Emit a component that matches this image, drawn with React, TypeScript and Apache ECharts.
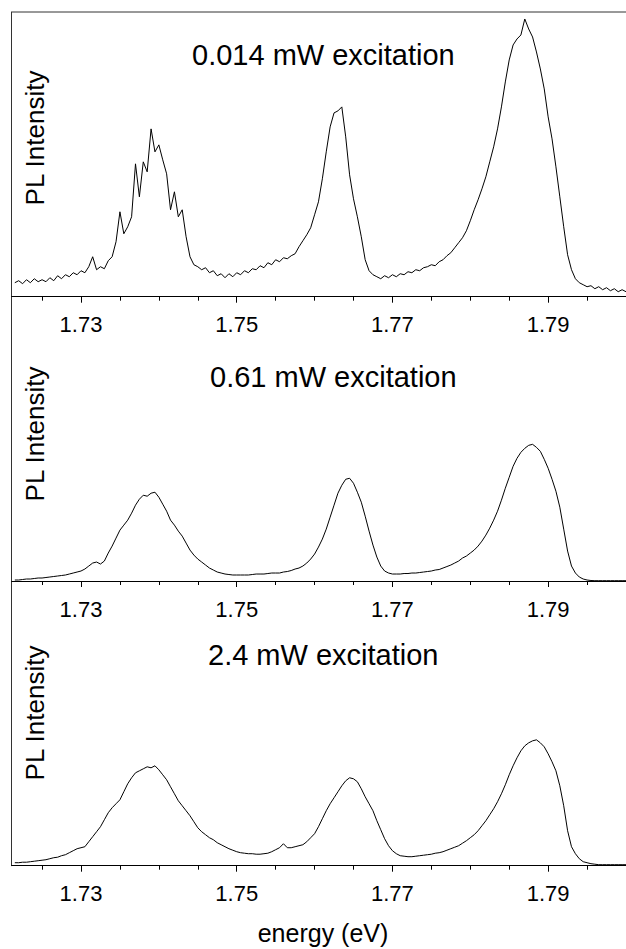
import React, { useEffect, useRef } from "react";
import * as echarts from "echarts";

// Photon energy (eV), shared sampling grid of all three spectra
const energy = [
  1.7215, 1.722, 1.7225, 1.723, 1.7235, 1.724, 1.7245, 1.725, 1.7255, 1.726,
  1.7265, 1.727, 1.7275, 1.728, 1.7285, 1.729, 1.7295, 1.73, 1.7305, 1.731,
  1.7315, 1.732, 1.7325, 1.733, 1.7335, 1.734, 1.7345, 1.735, 1.7355, 1.736,
  1.7365, 1.737, 1.7375, 1.738, 1.7385, 1.739, 1.7395, 1.74, 1.7405, 1.741,
  1.7415, 1.742, 1.7425, 1.743, 1.7435, 1.744, 1.7445, 1.745, 1.7455, 1.746,
  1.7465, 1.747, 1.7475, 1.748, 1.7485, 1.749, 1.7495, 1.75, 1.7505, 1.751,
  1.7515, 1.752, 1.7525, 1.753, 1.7535, 1.754, 1.7545, 1.755, 1.7555, 1.756,
  1.7565, 1.757, 1.7575, 1.758, 1.7585, 1.759, 1.7595, 1.76, 1.7605, 1.761,
  1.7615, 1.762, 1.7625, 1.763, 1.7635, 1.764, 1.7645, 1.765, 1.7655, 1.766,
  1.7665, 1.767, 1.7675, 1.768, 1.7685, 1.769, 1.7695, 1.77, 1.7705, 1.771,
  1.7715, 1.772, 1.7725, 1.773, 1.7735, 1.774, 1.7745, 1.775, 1.7755, 1.776,
  1.7765, 1.777, 1.7775, 1.778, 1.7785, 1.779, 1.7795, 1.78, 1.7805, 1.781,
  1.7815, 1.782, 1.7825, 1.783, 1.7835, 1.784, 1.7845, 1.785, 1.7855, 1.786,
  1.7865, 1.787, 1.7875, 1.788, 1.7885, 1.789, 1.7895, 1.79, 1.7905, 1.791,
  1.7915, 1.792, 1.7925, 1.793, 1.7935, 1.794, 1.7945, 1.795, 1.7955, 1.796,
  1.7965, 1.797, 1.7975, 1.798, 1.7985, 1.799, 1.7995, 1.8,
];

// PL intensity (arb. units), 0.014 mW excitation
const intensityLow = [
  14, 16, 13, 17, 14, 18, 15, 17, 15, 19,
  16, 21, 18, 22, 20, 24, 22, 26, 24, 30,
  40, 27, 30, 28, 36, 40, 55, 85, 63, 70,
  80, 133, 100, 135, 125, 168, 145, 152, 137, 123,
  87, 105, 80, 87, 60, 40, 32, 30, 27, 29,
  24, 26, 21, 23, 19, 23, 20, 24, 22, 26,
  24, 28, 27, 31, 29, 34, 32, 37, 35, 39,
  38, 41, 43, 50, 56, 62, 69, 82, 95, 118,
  145, 170, 184, 186, 190, 160, 122, 98, 80, 60,
  37, 26, 22, 20, 18, 21, 19, 22, 20, 23,
  22, 25, 24, 27, 26, 29, 30, 32, 31, 35,
  37, 41, 44, 49, 54, 59, 66, 76, 87, 97,
  108, 120, 135, 150, 168, 190, 215, 237, 252, 258,
  262, 278, 268, 260, 245, 228, 208, 180, 158, 130,
  100, 70, 42, 27, 18, 14, 12, 10, 11, 8,
  10, 7, 9, 6, 8, 5, 7, 5,
];

// PL intensity (arb. units), 0.61 mW excitation
const intensityMid = [
  1, 1, 1.5, 2, 2, 2.5, 3, 3, 3.5, 4,
  4.5, 5, 5.5, 6, 7, 8, 9, 10, 12, 15,
  18, 19, 17, 20, 28, 35, 43, 51, 56, 61,
  68, 76, 82, 86, 85, 88, 89, 84, 77, 70,
  61, 56, 50, 45, 38, 31, 26, 22, 19, 16,
  13, 11, 9, 8, 7, 6.5, 6, 6, 6, 6,
  6, 6.5, 7, 7, 7, 7.5, 8, 8, 8, 9,
  9.5, 10.5, 12, 13, 15, 18, 22, 27, 34, 42,
  52, 64, 76, 88, 96, 102, 103, 98, 89, 79,
  65, 50, 36, 24, 15, 10, 8, 7, 7, 7,
  7.5, 7.5, 8, 8, 8.5, 9, 9.5, 10, 11, 11.5,
  13, 14.5, 16, 18, 20, 23, 25, 28, 31, 35,
  40, 46, 53, 61, 70, 81, 93, 104, 115, 123,
  129, 133, 136, 137, 134, 130, 122, 113, 102, 90,
  74, 52, 30, 15, 8, 4, 2, 1, 0.5, 0.3,
  0.3, 0.3, 0.3, 0.3, 0.3, 0.3, 0.3, 0.3,
];

// PL intensity (arb. units), 2.4 mW excitation
const intensityHigh = [
  3, 3, 3.5, 3.5, 4, 4.5, 5, 5.5, 6, 7,
  8, 8.5, 10, 11, 13, 15, 17, 18, 19, 24,
  29, 34, 39, 46, 53, 58, 62, 66, 74, 82,
  88, 93, 95, 97, 99, 98, 100, 96, 91, 86,
  79, 72, 65, 60, 55, 50, 44, 38, 34, 31,
  28, 26, 23, 21, 19, 17, 15.5, 14, 13, 12.5,
  12, 12, 11.5, 11.5, 12, 12.5, 14, 16, 18, 22,
  18, 18, 19, 20, 21, 24, 28, 32, 39, 47,
  55, 62, 68, 74, 80, 85, 88, 87, 84, 77,
  69, 62, 55, 45, 36, 27, 20, 15, 12, 10,
  9.5, 9, 9, 9.5, 10, 10.5, 11, 11.5, 12.5, 13,
  14, 15.5, 17, 18.5, 20, 22.5, 25, 28, 31, 35,
  40, 45, 51, 57, 64, 72, 81, 91, 100, 108,
  115, 120, 123, 125, 126, 123, 119, 112, 104, 95,
  80, 60, 35, 19, 12, 7, 4, 3, 2, 1.5,
  1, 1, 1, 1, 1, 1, 1, 1,
];

const panelTitles = ["0.014 mW excitation", "0.61 mW excitation", "2.4 mW excitation"];
const majorTicks = [1.73, 1.75, 1.77, 1.79];
const minorTicks = [1.725, 1.735, 1.74, 1.745, 1.755, 1.76, 1.765, 1.775, 1.78, 1.785, 1.795, 1.8];
const yName = "PL Intensity";
const xName = "energy (eV)";

const FONT = "'Liberation Sans', Arial, Helvetica, sans-serif";

export default function App() {
  const ref = useRef<HTMLDivElement>(null);

  useEffect(() => {
    document.body.style.margin = "0";
    if (!ref.current) return;
    const chart = echarts.init(ref.current, null, { renderer: "svg" });

    const series = [intensityLow, intensityMid, intensityHigh];
    const grids = [
      { left: 11.7, top: 12, width: 614.3, height: 284.7 },
      { left: 11.7, top: 296.7, width: 614.3, height: 284.3 },
      { left: 11.7, top: 581, width: 614.3, height: 284.7 },
    ];
    const xMin = 1.7211;
    const xMax = 1.8;

    const xAxis: any[] = [];
    const yAxis: any[] = [];
    grids.forEach((_, k) => {
      xAxis.push({
        type: "value",
        gridIndex: k,
        position: "bottom",
        min: xMin,
        max: xMax,
        axisLine: { show: true, lineStyle: { color: "#000", width: 1 } },
        axisTick: { show: true, customValues: majorTicks, length: 6, lineStyle: { color: "#000" } },
        axisLabel: {
          show: true,
          customValues: majorTicks,
          margin: 17,
          fontSize: 22,
          fontFamily: FONT,
          color: "#000",
        },
        splitLine: { show: false },
      });
      xAxis.push({
        type: "value",
        gridIndex: k,
        position: "bottom",
        min: xMin,
        max: xMax,
        axisLine: { show: false },
        axisTick: { show: true, customValues: minorTicks, length: 4, lineStyle: { color: "#000" } },
        axisLabel: { show: false },
        splitLine: { show: false },
      });
      yAxis.push({
        type: "value",
        gridIndex: k,
        min: 0,
        max: 285,
        axisLine: { show: true, lineStyle: { color: "#333", width: 1 } },
        axisTick: { show: false },
        axisLabel: { show: false },
        splitLine: { show: false },
      });
    });

    const titleX = [192, 210, 208];
    const titleY = [55, 377, 655];
    const yLabelY = [138, 434, 713];

    const graphic: any[] = [
      {
        type: "line",
        shape: { x1: 11.7, y1: 12, x2: 626, y2: 12 },
        style: { stroke: "#333", lineWidth: 1 },
      },
    ];
    panelTitles.forEach((t, k) => {
      graphic.push({
        type: "text",
        x: titleX[k],
        y: titleY[k],
        style: {
          text: t,
          fontSize: 29,
          fontFamily: FONT,
          fill: "#000",
          align: "left",
          verticalAlign: "middle",
        },
      });
      graphic.push({
        type: "text",
        x: 35,
        y: yLabelY[k],
        rotation: Math.PI / 2,
        style: {
          text: yName,
          fontSize: 26,
          fontFamily: FONT,
          fill: "#000",
          align: "center",
          verticalAlign: "middle",
        },
      });
    });
    graphic.push({
      type: "text",
      x: 323,
      y: 933,
      style: {
        text: xName,
        fontSize: 25,
        fontFamily: FONT,
        fill: "#000",
        align: "center",
        verticalAlign: "middle",
      },
    });

    chart.setOption({
      animation: false,
      backgroundColor: "#fff",
      grid: grids,
      xAxis,
      yAxis,
      series: series.map((arr, k) => ({
        type: "line",
        xAxisIndex: 2 * k,
        yAxisIndex: k,
        data: energy.map((e, i) => [e, arr[i]]),
        showSymbol: false,
        symbol: "none",
        lineStyle: { color: "#000", width: 1 },
        silent: true,
      })),
      graphic,
    });

    return () => chart.dispose();
  }, []);

  return <div ref={ref} style={{ width: 626, height: 949 }} />;
}
